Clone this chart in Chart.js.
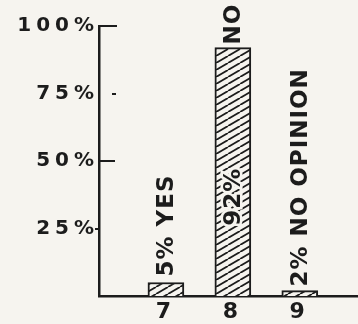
<!DOCTYPE html>
<html>
<head>
<meta charset="utf-8">
<script src="https://cdn.jsdelivr.net/npm/chart.js@4.4.1/dist/chart.umd.min.js"></script>
<style>
  html, body { margin: 0; padding: 0; background: #f6f4ef; }
  #wrap { width: 358px; height: 324px; }
</style>
</head>
<body>
<div id="wrap"><canvas id="poll"></canvas></div>
<script>
// ===================== Data =====================
const CATEGORIES = [7, 8, 9];
const VALUES = [5, 92, 2];
const BAR_LABELS = ["5% YES", "NO", "2% NO OPINION"];
const INSIDE_LABELS = ["", "92%", ""];
const Y_TICKS = [25, 50, 75, 100];

// ===================== Style =====================
const INK = "#1c1c1c";
const PAPER = "#f6f4ef";
const LABEL_FONT = 'bold 23px "DejaVu Sans"';
const LABEL_GAPS = [6, 3, 4];

function makeHatch() {
  const w = 12, h = 7;
  const tile = document.createElement("canvas");
  tile.width = w;
  tile.height = h;
  const t = tile.getContext("2d");
  t.fillStyle = PAPER;
  t.fillRect(0, 0, w, h);
  t.strokeStyle = INK;
  t.lineWidth = 1.8;
  [-w, 0, w].forEach((dx) => {
    t.beginPath();
    t.moveTo(dx, h);
    t.lineTo(dx + w, 0);
    t.stroke();
  });
  return t.createPattern(tile, "repeat");
}

// inward tick marks on the y axis (value, start offset, length)
const yTickMarks = {
  id: "yTickMarks",
  afterDraw(chart) {
    const { ctx, scales } = chart;
    const y = scales.y;
    const x0 = y.right;
    const marks = [
      [100, 0, 18],
      [75, 13, 4],
      [50, 0, 16],
      [25, -4, 4],
    ];
    ctx.save();
    ctx.strokeStyle = INK;
    ctx.lineWidth = 2;
    marks.forEach(([v, off, len]) => {
      const py = Math.round(y.getPixelForValue(v));
      ctx.beginPath();
      ctx.moveTo(x0 + off, py);
      ctx.lineTo(x0 + off + len, py);
      ctx.stroke();
    });
    ctx.restore();
  },
};

// vertical text labels above / inside bars
const barLabels = {
  id: "barLabels",
  beforeDraw(chart) {
    chart.ctx.letterSpacing = "5px";
  },
  afterDatasetsDraw(chart) {
    const { ctx } = chart;
    const bars = chart.getDatasetMeta(0).data;
    ctx.save();
    ctx.letterSpacing = "1px";
    ctx.font = LABEL_FONT;
    ctx.fillStyle = INK;
    ctx.textBaseline = "middle";
    bars.forEach((bar, i) => {
      ctx.save();
      ctx.translate(bar.x, bar.y - LABEL_GAPS[i]);
      ctx.rotate(-Math.PI / 2);
      ctx.textAlign = "left";
      ctx.fillText(BAR_LABELS[i], 0, 1);
      ctx.restore();

      if (INSIDE_LABELS[i]) {
        const cy = bar.base - (bar.base - bar.y) * 0.4;
        ctx.save();
        ctx.translate(bar.x, cy);
        ctx.rotate(-Math.PI / 2);
        ctx.textAlign = "center";
        ctx.strokeStyle = PAPER;
        ctx.lineWidth = 5;
        ctx.strokeText(INSIDE_LABELS[i], 0, 1);
        ctx.fillText(INSIDE_LABELS[i], 0, 1);
        ctx.restore();
      }
    });
    ctx.restore();
  },
};

// ===================== Chart =====================
const hatch = makeHatch();

new Chart(document.getElementById("poll"), {
  type: "bar",
  data: {
    datasets: [
      {
        data: CATEGORIES.map((c, i) => ({ x: c, y: VALUES[i] })),
        backgroundColor: hatch,
        borderColor: INK,
        borderWidth: 2,
        borderSkipped: "bottom",
        barThickness: 36,
      },
    ],
  },
  options: {
    responsive: true,
    maintainAspectRatio: false,
    animation: false,
    layout: { padding: { top: 26, right: 0, left: 0, bottom: 0 } },
    plugins: {
      legend: { display: false },
      tooltip: { enabled: false },
    },
    scales: {
      x: {
        type: "linear",
        offset: false,
        min: 6,
        max: 9.87,
        afterBuildTicks: (scale) => {
          scale.ticks = CATEGORIES.map((v) => ({ value: v }));
        },
        afterFit: (scale) => {
          scale.height = 28;
        },
        ticks: {
          color: INK,
          font: { family: "DejaVu Sans", size: 22, weight: "bold" },
          padding: 3,
          maxRotation: 0,
        },
        grid: { drawOnChartArea: false, drawTicks: false, offset: false },
        border: { display: true, color: INK, width: 2.5 },
      },
      y: {
        min: 0,
        max: 100,
        afterBuildTicks: (scale) => {
          scale.ticks = Y_TICKS.map((v) => ({ value: v }));
        },
        afterFit: (scale) => {
          scale.width = 99;
        },
        ticks: {
          color: INK,
          font: { family: "DejaVu Sans", size: 20, weight: "bold" },
          padding: 0,
          callback: (v) => v + "%",
        },
        grid: { drawOnChartArea: false, drawTicks: false },
        border: { display: true, color: INK, width: 2.5 },
      },
    },
  },
  plugins: [yTickMarks, barLabels],
});
</script>
</body>
</html>
